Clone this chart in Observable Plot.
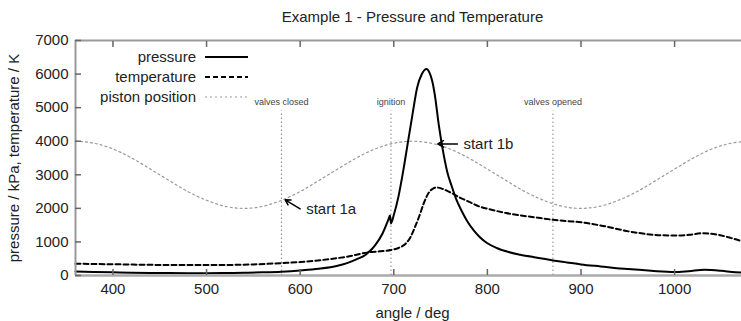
<!DOCTYPE html>
<html><head><meta charset="utf-8">
<script src="https://cdn.jsdelivr.net/npm/d3@7"></script>
<script src="https://cdn.jsdelivr.net/npm/@observablehq/plot@0.6"></script>
<style>
body{margin:0;background:#fff;}
#wrap{position:relative;width:741px;height:321px;overflow:hidden;font-family:"Liberation Sans",Arial,sans-serif;}
#legend{position:absolute;left:0;top:0;}
</style></head><body><div id="wrap"></div>
<script>
const title = "Example 1 - Pressure and Temperature";
const xLabel = "angle / deg";
const yLabel = "pressure / kPa, temperature / K";
const xTicks = [400, 500, 600, 700, 800, 900, 1000];
const yTicks = [0, 1000, 2000, 3000, 4000, 5000, 6000, 7000];

const pressureAngle = [360,380,400,420,440,460,480,500,520,540,560,580,600,620,640,650,660,670,673,680,688,694,696,697,700,705,710,715,720,725,730,735,738,741,744,748,752,757,762,767,772,778,785,792,800,810,820,835,850,860,870,885,900,921,950,975,1000,1015,1032,1050,1065,1080];
const pressure      = [120,105,95,85,78,72,70,70,75,82,95,115,150,200,290,370,480,620,690,900,1250,1650,1790,1550,1800,2350,3100,3950,4800,5600,6000,6150,6050,5800,5350,4500,3800,3100,2650,2250,1950,1640,1360,1140,960,820,720,620,545,500,450,390,330,270,190,140,105,130,170,140,95,85];

const temperatureAngle = [360,400,450,500,550,580,600,632,650,673,685,697,705,712,718,722,727,732,737,742,746,752,760,770,780,792,800,820,850,870,885,900,921,956,985,1003,1016,1031,1045,1060,1070,1080];
const temperature      = [350,335,315,310,330,370,400,490,560,690,720,760,820,930,1150,1400,1750,2150,2450,2590,2620,2580,2480,2330,2200,2050,1990,1860,1735,1660,1620,1585,1490,1290,1200,1190,1215,1260,1220,1120,1040,1010];

const pistonAngle = [360,380,400,420,440,460,480,500,520,540,560,580,600,620,640,660,680,700,720,740,760,780,800,820,840,860,880,900,920,940,960,980,1000,1020,1040,1060,1080];
const piston      = [4000,3940,3770,3500,3170,2830,2500,2240,2060,2000,2060,2240,2500,2830,3170,3500,3770,3940,4000,3940,3770,3500,3170,2830,2500,2240,2060,2000,2060,2240,2500,2830,3170,3500,3770,3940,4000];

const eventAngle = [580, 697, 870];
const eventLabel = ["valves closed", "ignition", "valves opened"];
const eventTop = 4900;

const noteLabel = ["start 1a", "start 1b"];
const noteFromAngle = [600, 768];
const noteFromValue = [1985, 3920];
const noteToAngle = [584, 747];
const noteToValue = [2253, 3920];

const legendLabel = ["pressure", "temperature", "piston position"];

const pressRows = pressureAngle.map((a, i) => ({angle: a, value: pressure[i]}));
const tempRows = temperatureAngle.map((a, i) => ({angle: a, value: temperature[i]}));
const pistonRows = pistonAngle.map((a, i) => ({angle: a, value: piston[i]}));
const events = eventAngle.map((a, i) => ({angle: a, label: eventLabel[i]}));
const notes = noteLabel.map((l, i) => ({label: l, x1: noteFromAngle[i], y1: noteFromValue[i], x2: noteToAngle[i], y2: noteToValue[i]}));

const styles = [
  {stroke: "#000", dash: null, width: 2},
  {stroke: "#000", dash: "5,3", width: 2},
  {stroke: "#999", dash: "2,3", width: 1.2}
];

const chart = Plot.plot({
  width: 741, height: 321,
  marginLeft: 75, marginRight: -8, marginTop: 40, marginBottom: 46,
  style: {fontFamily: "'Liberation Sans', Arial, sans-serif", fontSize: "15px", color: "#333", background: "#fff"},
  x: {domain: [360, 1080]},
  y: {domain: [0, 7000]},
  marks: [
    Plot.ruleX(events, {x: "angle", y1: 0, y2: eventTop, stroke: "#888", strokeWidth: 1, strokeDasharray: "1.5,2.5"}),
    Plot.text(events, {x: "angle", y: eventTop, text: "label", fontSize: 9, dy: -9, fill: "#444"}),
    Plot.line(pistonRows, {x: "angle", y: "value", stroke: styles[2].stroke, strokeWidth: styles[2].width, strokeDasharray: styles[2].dash, curve: "monotone-x"}),
    Plot.line(tempRows, {x: "angle", y: "value", stroke: styles[1].stroke, strokeWidth: styles[1].width, strokeDasharray: styles[1].dash, curve: "monotone-x"}),
    Plot.line(pressRows, {x: "angle", y: "value", stroke: styles[0].stroke, strokeWidth: styles[0].width, curve: "monotone-x"}),
    Plot.arrow(notes, {x1: "x1", y1: "y1", x2: "x2", y2: "y2", stroke: "#000", strokeWidth: 1.5, headLength: 7}),
    Plot.text(notes, {x: "x1", y: "y1", text: "label", textAnchor: "start", dx: 6, fontSize: 15, fill: "#222"}),
    Plot.ruleY([0], {stroke: "#aaa", strokeWidth: 2.5}),
    Plot.ruleY([7000], {stroke: "#999", strokeWidth: 2}),
    Plot.ruleX([360], {stroke: "#999", strokeWidth: 2}),
    Plot.axisX({ticks: xTicks, anchor: "bottom", tickSize: -6, tickPadding: 14, tickFormat: d => String(d), stroke: "#666", strokeWidth: 1.5, label: null, fill: "#222"}),
    Plot.axisX({ticks: xTicks, anchor: "top", tickSize: -6, tickFormat: () => "", stroke: "#666", strokeWidth: 1.5, label: null}),
    Plot.axisY({ticks: yTicks, anchor: "left", tickSize: -6, tickPadding: 13, tickFormat: d => String(d), stroke: "#666", strokeWidth: 1.5, label: null, fill: "#222"}),
    Plot.text([xLabel], {frameAnchor: "bottom", dy: 38, lineAnchor: "middle", textAnchor: "middle", fontSize: 15, fill: "#222"}),
    Plot.text([yLabel], {frameAnchor: "left", dx: -61, rotate: -90, lineAnchor: "middle", textAnchor: "middle", fontSize: 15, fill: "#222"}),
    Plot.text([title], {frameAnchor: "top", dy: -23, lineAnchor: "middle", textAnchor: "middle", fontSize: 15, fill: "#222"})
  ]
});
document.getElementById("wrap").appendChild(chart);

// legend overlay inside the frame, top-left
const lg = d3.select("#wrap").append("svg").attr("id", "legend").attr("width", 300).attr("height", 120);
legendLabel.forEach((label, i) => {
  const y = 57 + i * 20;
  lg.append("text").attr("x", 196).attr("y", y).attr("dy", "0.35em").attr("text-anchor", "end")
    .attr("font-family", "'Liberation Sans', Arial, sans-serif").attr("font-size", 15).attr("fill", "#222").text(label);
  lg.append("line").attr("x1", 205).attr("x2", 248).attr("y1", y).attr("y2", y)
    .attr("stroke", styles[i].stroke).attr("stroke-width", styles[i].width)
    .attr("stroke-dasharray", styles[i].dash);
});
</script></body></html>
